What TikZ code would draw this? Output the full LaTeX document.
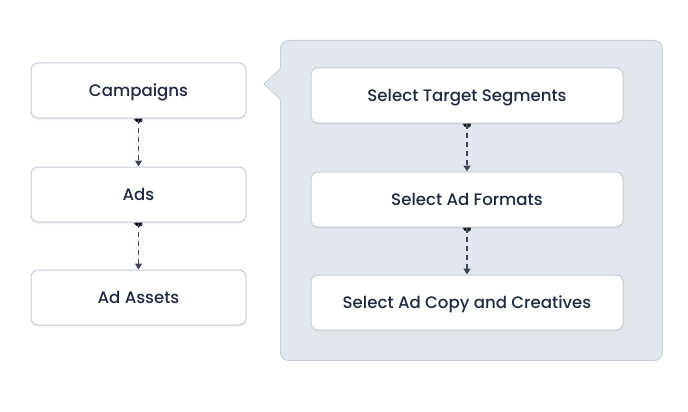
\documentclass[tikz,border=0pt]{standalone}
\usepackage{fontspec}
\setmainfont{Poppins Medium}
\usetikzlibrary{arrows.meta,shadows}
\definecolor{txt}{HTML}{1E2A44}
\definecolor{bord}{HTML}{C4CBDA}
\definecolor{panelfill}{HTML}{E2E6EE}
\definecolor{panelbord}{HTML}{C8CEDA}
\definecolor{conn}{HTML}{3A4660}
\pgfdeclarelayer{bg}
\pgfdeclarelayer{mid}
\pgfsetlayers{bg,mid,main}
\tikzset{
  box/.style={draw=bord, line width=1pt, fill=white, rounded corners=7pt,
    minimum height=55pt, text=txt, font=\fontsize{16.6}{18}\selectfont,
    text height=11.6pt, text depth=0pt,
    drop shadow={opacity=0.07, shadow xshift=0pt, shadow yshift=-2pt}},
  lbox/.style={box, minimum width=215pt},
  rbox/.style={box, minimum width=312pt},
  conn/.style={draw=conn, line width=1.3pt, dash pattern=on 5pt off 4pt,
    -{Triangle[width=7pt,length=6pt]}},
  dotc/.style={fill=conn}
}
\begin{document}
\begin{tikzpicture}[x=1pt,y=-1pt]
\useasboundingbox (0,0) rectangle (688,412);
% panel
\begin{pgfonlayer}{bg}
\node[draw=panelbord, line width=0.9pt, fill=panelfill, rounded corners=8pt,
  minimum width=382pt, minimum height=320pt, anchor=north west, inner sep=0pt] (panel) at (280,40) {};
\fill[panelfill] (281,68) -- (264,84) -- (281,100) -- cycle;
\draw[panelbord, line width=0.9pt, line join=round] (280.5,68.5) -- (264,84) -- (280.5,99.5);
\end{pgfonlayer}
% left boxes
\node[lbox] (camp) at (138.5,90.5) {Campaigns};
\node[lbox] (ads) at (138.5,194.5) {Ads};
\node[lbox] (assets) at (138.5,297.5) {Ad Assets};
% right boxes
\node[rbox] (seg) at (467,95.5) {Select Target Segments};
\node[rbox] (fmt) at (467,199.5) {Select Ad Formats};
\node[rbox] (copy) at (467,302.5) {Select Ad Copy and Creatives};
% connectors
\begin{pgfonlayer}{mid}
\foreach \a/\b in {camp/ads, ads/assets, seg/fmt, fmt/copy}{
  \fill[conn] (\a.south) circle (4pt);
  \draw[conn] (\a.south) -- (\b.north);
}
\end{pgfonlayer}
\end{tikzpicture}
\end{document}
